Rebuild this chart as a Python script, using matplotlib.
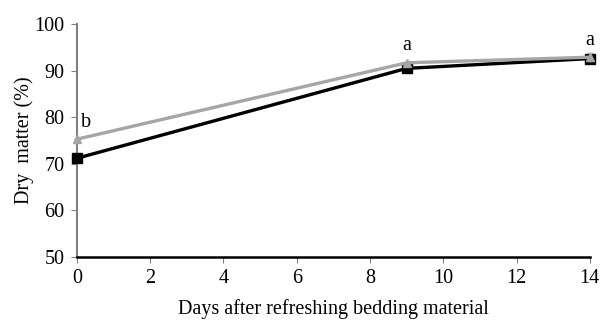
import matplotlib
matplotlib.use("Agg")
import matplotlib.pyplot as plt

days = [0, 9, 14]
dm_black = [71.2, 90.5, 92.6]
dm_gray = [75.3, 91.7, 92.9]
err_black = [0.0, 0.0, 0.8]
err_gray = [0.0, 0.0, 0.8]
letters = ["b", "a", "a"]

plt.rcParams["font.family"] = ["Liberation Serif", "DejaVu Serif"]

fig = plt.figure(figsize=(6.08, 3.22), dpi=100)
ax = fig.add_axes([0.1266, 0.202, 0.8434, 0.723])

ax.errorbar(days, dm_black, yerr=err_black, color="black", lw=2.4,
            marker="s", ms=7, capsize=2, elinewidth=1, zorder=3)
ax.errorbar(days, dm_gray, yerr=err_gray, color="#a6a6a6", lw=2.4,
            marker="^", ms=6, capsize=2, elinewidth=1, zorder=4)

for d, v, s in zip(days, dm_gray, letters):
    ax.text(d + (0.25 if d == 0 else 0), v + 1.6, s, fontsize=14.5,
            ha="center", va="bottom")

ax.set_xlim(0, 14)
ax.set_ylim(50, 100)
ax.set_xticks(range(0, 15, 2))
ax.set_yticks(range(50, 101, 10))
ax.tick_params(labelsize=14.5, length=4, color="#808080", pad=5)
ax.set_xlabel("Days after refreshing bedding material", fontsize=14.5, labelpad=8)
ax.set_ylabel("Dry  matter (%)", fontsize=14.5, labelpad=0)

for side in ["top", "right"]:
    ax.spines[side].set_visible(False)
ax.spines["left"].set_color("#808080")
ax.spines["left"].set_linewidth(1.5)
ax.spines["bottom"].set_color("black")
ax.spines["bottom"].set_linewidth(1.8)
for art in ax.get_children():
    art.set_clip_on(False)

plt.savefig("out.png", dpi=100)
